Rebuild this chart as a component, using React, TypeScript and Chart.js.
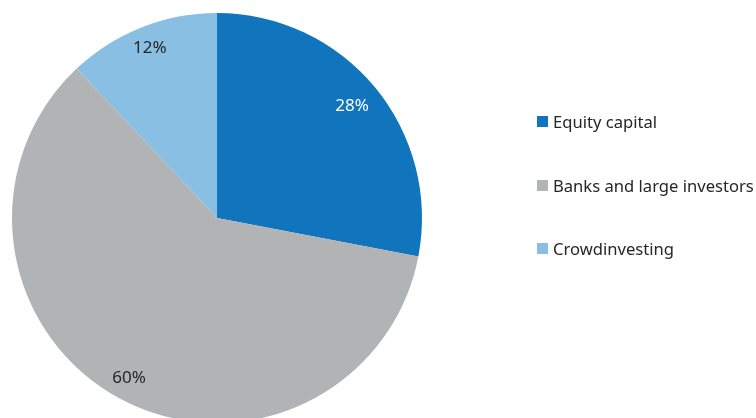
import React, { useEffect, useRef } from "react";
import { Chart, registerables } from "chart.js";

Chart.register(...registerables);

const categories = ["Equity capital", "Banks and large investors", "Crowdinvesting"];
const shares = [28, 60, 12];
const sliceColors = ["#1075BD", "#B1B3B4", "#88BFE2"];
const labelColors = ["#FFFFFF", "#262626", "#262626"];
const labelRadius = [0.855, 0.89, 0.89];

const FONT = "'Noto Sans', sans-serif";

const pctPlugin = {
  id: "pctLabels",
  afterDatasetsDraw(chart: any) {
    const ctx = chart.ctx;
    const meta = chart.getDatasetMeta(0);
    ctx.save();
    ctx.font = `17px ${FONT}`;
    ctx.textAlign = "center";
    ctx.textBaseline = "middle";
    meta.data.forEach((arc: any, i: number) => {
      const { x, y, startAngle, endAngle, outerRadius } = arc.getProps(
        ["x", "y", "startAngle", "endAngle", "outerRadius"],
        true
      );
      const mid = (startAngle + endAngle) / 2;
      const r = outerRadius * labelRadius[i];
      ctx.fillStyle = labelColors[i];
      ctx.fillText(`${shares[i]}%`, x + Math.cos(mid) * r, y + Math.sin(mid) * r);
    });
    ctx.restore();
  },
};

export default function App() {
  const ref = useRef<HTMLCanvasElement | null>(null);
  useEffect(() => {
    if (!ref.current) return;
    const chart = new Chart(ref.current, {
      type: "pie",
      data: {
        labels: categories,
        datasets: [
          {
            data: shares,
            backgroundColor: sliceColors,
            borderWidth: 0,
          },
        ],
      },
      options: {
        responsive: false,
        animation: false,
        devicePixelRatio: 1,
        layout: { padding: { left: 12, top: 13, right: 334, bottom: 13 } },
        plugins: {
          legend: { display: false },
          tooltip: { enabled: false },
        },
      },
      plugins: [pctPlugin],
    });
    return () => chart.destroy();
  }, []);

  const legendTops = [121, 185, 248];
  return (
    <div
      style={{
        position: "fixed",
        left: 0,
        top: 0,
        width: 756,
        height: 418,
        overflow: "hidden",
        background: "#fff",
      }}
    >
      <canvas ref={ref} width={756} height={436} style={{ width: 756, height: 436, display: "block" }} />
      {categories.map((c, i) => (
        <div
          key={c}
          style={{
            position: "absolute",
            left: 537,
            top: legendTops[i] - 12,
            height: 24,
            display: "flex",
            alignItems: "center",
            fontFamily: FONT,
            fontSize: 16.6,
            color: "#262626",
            whiteSpace: "nowrap",
          }}
        >
          <span
            style={{
              display: "inline-block",
              width: 11,
              height: 11,
              background: sliceColors[i],
              marginRight: 5,
            }}
          />
          <span>{c}</span>
        </div>
      ))}
    </div>
  );
}
